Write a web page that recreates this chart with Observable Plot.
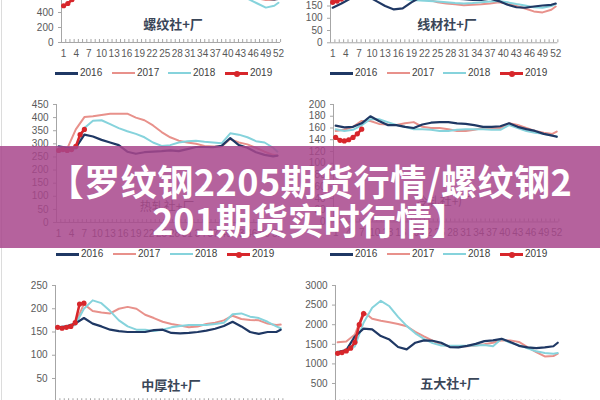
<!DOCTYPE html>
<html><head><meta charset="utf-8">
<script src="https://cdn.jsdelivr.net/npm/d3@7"></script>
<script src="https://cdn.jsdelivr.net/npm/@observablehq/plot@0.6"></script>
<style>
body{margin:0;background:#fff;}
#page{position:relative;width:600px;height:400px;overflow:hidden;background:#fff;}
.lbl{position:absolute;transform:translate(-50%,-50%);font-family:"Noto Sans CJK SC";font-size:13px;color:#3a4658;white-space:nowrap;font-weight:bold;}
.lbl.thin{font-weight:normal;font-size:12px;color:#555;}
.legtxt{position:absolute;font-family:"Liberation Sans",Arial,sans-serif;font-size:10px;color:#404040;line-height:12px;}
.legline{position:absolute;height:2px;}
.legdot{position:absolute;width:6px;height:6px;border-radius:3px;}
#border{position:absolute;left:1px;top:0;width:1px;height:400px;background:#dcdcdc;}
#banner{position:absolute;left:0;top:146px;width:600px;height:102px;background:rgba(168,70,140,0.85);}
#title{position:absolute;left:0;top:161px;width:620px;text-align:center;color:#fff;font-family:"Noto Sans CJK SC";font-weight:bold;font-size:36px;line-height:39px;white-space:nowrap;}
#title .l1{letter-spacing:0.5px;}
</style></head>
<body><div id="page"><div id="border"></div></div>
<script>
// ---- data ----
const years = ["2016","2017","2018","2019"];
const colors = ["#1f3864","#e8918b","#86d3dc","#d7262b"];
const weeks = [1,3,5,7,9,11,13,15,17,19,21,23,25,27,29,31,33,35,37,39,41,43,45,47,49,51,52];
const weeks2019 = [1,2,3,4,5,6,7];
const xTickLabels = [1,4,7,10,13,16,19,22,25,28,31,34,37,40,43,46,49,52];

// 螺纹社+厂
const rebar2016 = [700,760,900,1100,1200,1150,1050,950,880,820,780,760,740,720,700,690,680,670,660,680,700,680,640,610,585,575,580];
const rebar2017 = [680,750,900,1150,1300,1250,1150,1050,950,880,820,780,760,740,720,700,690,700,720,760,740,680,620,590,565,570,590];
const rebar2018 = [700,720,850,1100,1350,1300,1200,1100,1000,900,820,780,740,720,700,690,680,680,700,740,720,660,575,520,465,490,530];
const rebar2019 = [490,520,570,650,760,880,1000];
// 线材社+厂
const wire2016 = [143,160,180,200,190,170,150,136,140,165,185,195,190,185,180,178,175,175,180,170,155,145,143,148,152,155,160];
const wire2017 = [180,190,210,230,225,215,205,200,195,190,185,175,165,160,157,153,155,157,160,165,160,150,140,128,124,135,148];
const wire2018 = [175,180,200,220,215,205,195,185,180,175,172,170,168,165,162,160,162,165,168,170,165,158,152,145,143,150,158];
const wire2019 = [165,170,178,190,205,220,235];
// 热轧社+厂
const hot2016 = [290,285,285,335,328,315,305,295,270,262,268,270,272,275,272,280,288,288,287,292,322,295,285,268,258,252,255];
const hot2017 = [280,282,355,402,405,410,415,415,415,400,390,370,345,325,312,305,300,292,290,290,318,305,298,285,270,258,255];
const hot2018 = [270,275,280,360,388,390,375,360,348,338,325,305,292,295,305,310,312,308,305,302,340,335,325,310,305,285,270];
const hot2019 = [275,278,275,278,290,335,355];
// 冷轧社+厂
const cold2016 = [164,161,162,168,180,172,165,165,162,160,166,169,170,170,168,167,165,162,162,163,168,162,158,155,150,147,145];
const cold2017 = [155,157,162,172,172,167,166,165,168,170,162,160,160,158,155,155,157,160,160,160,168,165,160,155,152,150,154];
const cold2018 = [158,155,157,165,175,175,170,165,162,158,158,157,155,155,157,158,158,158,157,157,165,160,155,152,150,147,146];
const cold2019 = [144,139,138,140,144,150,158];
// 中厚社+厂
const plate2016 = [160,162,168,180,168,162,155,152,150,150,150,154,155,148,147,148,150,153,157,163,172,162,150,146,150,150,155];
const plate2017 = [160,160,168,210,195,192,190,200,204,200,187,180,172,167,164,160,162,167,170,175,185,178,176,175,168,165,166];
const plate2018 = [158,160,165,200,218,212,195,175,162,155,155,152,155,160,163,165,165,165,167,170,188,190,183,180,172,162,158];
const plate2019 = [160,158,160,162,170,210,212];
// 五大社+厂
const five2016 = [1300,1350,1700,1900,1880,1710,1620,1430,1370,1540,1600,1590,1540,1430,1420,1460,1510,1580,1600,1640,1560,1460,1420,1400,1420,1450,1540];
const five2017 = [1550,1570,1750,2330,2150,2100,2060,2020,1960,1820,1700,1590,1490,1450,1450,1450,1470,1500,1540,1600,1600,1560,1430,1300,1190,1200,1260];
const five2018 = [1300,1330,1450,2050,2430,2610,2470,2200,1970,1780,1640,1530,1470,1460,1460,1460,1470,1480,1450,1640,1540,1480,1400,1320,1280,1260,1280];
const five2019 = [1270,1290,1330,1400,1550,2000,2280];

const panels = [
  {name:"螺纹社+厂", s:[rebar2016,rebar2017,rebar2018,rebar2019], ymax:1600, ystep:200, X0:60.9, X1:280.0, Y0:42, YT:-78, lbl:[173,23], leg:73, legX:[55,112,168,225]},
  {name:"线材社+厂", s:[wire2016,wire2017,wire2018,wire2019], ymax:250, ystep:50, X0:329.8, X1:557.2, Y0:42, YT:-19.3, lbl:[447,23], leg:73, legX:[330,387,443,500]},
  {name:"热轧社+厂", s:[hot2016,hot2017,hot2018,hot2019], ymax:450, ystep:50, X0:55.9, X1:279, Y0:222, YT:104, lbl:[167,205], leg:254, legX:[56,113,170,227], thin:true},
  {name:"冷轧社+厂", s:[cold2016,cold2017,cold2018,cold2019], ymax:200, ystep:20, X0:332.8, X1:558.2, Y0:221.5, YT:104, lbl:[443,200], leg:254, legX:[330,387,443,500], thin:true},
  {name:"中厚社+厂", s:[plate2016,plate2017,plate2018,plate2019], ymax:250, ystep:50, X0:54.8, X1:282.2, Y0:401.25, YT:285, lbl:[171,384], leg:null},
  {name:"五大社+厂", s:[five2016,five2017,five2018,five2019], ymax:3000, ystep:500, X0:334.8, X1:559.2, Y0:402.6, YT:285, lbl:[450,382], leg:null}
];

const page = document.getElementById("page");
const ML=50, MR=12, MT=8, MB=30;
const axisColor = "#a6a6a6";

for (const p of panels) {
  const width = p.X1 - p.X0 + ML + MR, height = p.Y0 - p.YT + MT + MB;
  const rows = p.s.map((vals, k) => (k === 3 ? weeks2019 : weeks).map((w, i) => ({week: w, value: vals[i]})));
  // only the tick labels that fall inside the visible page
  const yTicks = d3.range(0, p.ymax + 1, p.ystep).filter(v => p.Y0 - v * (p.Y0 - p.YT) / p.ymax >= 2 && p.Y0 - v * (p.Y0 - p.YT) / p.ymax <= 394);
  const xLabelsVisible = p.Y0 + 16 <= 400;
  const plot = Plot.plot({
    width, height, marginLeft: ML, marginRight: MR, marginTop: MT, marginBottom: MB,
    x: {domain: [0.5, 52.5]},
    y: {domain: [0, p.ymax]},
    style: {fontFamily: "'Liberation Sans', Arial, sans-serif", fontSize: "10px", background: "transparent", position: "absolute", left: (p.X0 - ML) + "px", top: (p.YT - MT) + "px", maxWidth: "none"},
    marks: [
      Plot.axisY({ticks: yTicks, tickSize: 3, tickPadding: 5, stroke: axisColor, fill: "#595959", label: null, tickFormat: d => String(d)}),
      Plot.axisX({ticks: d3.range(0.5, 53, 1), tickSize: -3, stroke: axisColor, tickFormat: () => "", label: null}),
      xLabelsVisible ? Plot.axisX({ticks: xTickLabels, tickSize: 0, tickPadding: 7, fill: "#595959", label: null, tickFormat: d => String(d)}) : null,
      Plot.ruleX([0.5], {stroke: axisColor}),
      Plot.ruleY([0], {stroke: axisColor}),
      Plot.line(rows[1], {x: "week", y: "value", stroke: colors[1], strokeWidth: 2}),
      Plot.line(rows[2], {x: "week", y: "value", stroke: colors[2], strokeWidth: 2}),
      Plot.line(rows[0], {x: "week", y: "value", stroke: colors[0], strokeWidth: 2.2}),
      Plot.line(rows[3], {x: "week", y: "value", stroke: colors[3], strokeWidth: 2.5}),
      Plot.dot(rows[3], {x: "week", y: "value", r: 2.6, fill: colors[3]})
    ]
  });
  page.appendChild(plot);

  const l = document.createElement("div");
  l.className = "lbl" + (p.thin ? " thin" : "");
  l.style.left = p.lbl[0] + "px"; l.style.top = p.lbl[1] + "px";
  l.textContent = p.name;
  page.appendChild(l);

  if (p.leg !== null) {
    years.forEach((yr, k) => {
      const x = p.legX[k];
      const ln = document.createElement("div");
      ln.className = "legline";
      ln.style.left = x + "px"; ln.style.top = (p.leg - 1) + "px"; ln.style.width = "23px";
      ln.style.background = colors[k];
      if (k === 0 || k === 3) ln.style.height = "3px";
      page.appendChild(ln);
      if (k === 3) {
        const d = document.createElement("div");
        d.className = "legdot";
        d.style.left = (x + 8.5) + "px"; d.style.top = (p.leg - 2.5) + "px"; d.style.background = colors[3];
        page.appendChild(d);
      }
      const t = document.createElement("div");
      t.className = "legtxt";
      t.style.left = (x + 25) + "px"; t.style.top = (p.leg - 6) + "px";
      t.textContent = yr;
      page.appendChild(t);
    });
  }
}

const banner = document.createElement("div");
banner.id = "banner";
page.appendChild(banner);
const title = document.createElement("div");
title.id = "title";
title.innerHTML = '<span class="l1">【罗纹钢2205期货行情/螺纹钢2</span><br>201期货实时行情】';
page.appendChild(title);
</script>
</body></html>
